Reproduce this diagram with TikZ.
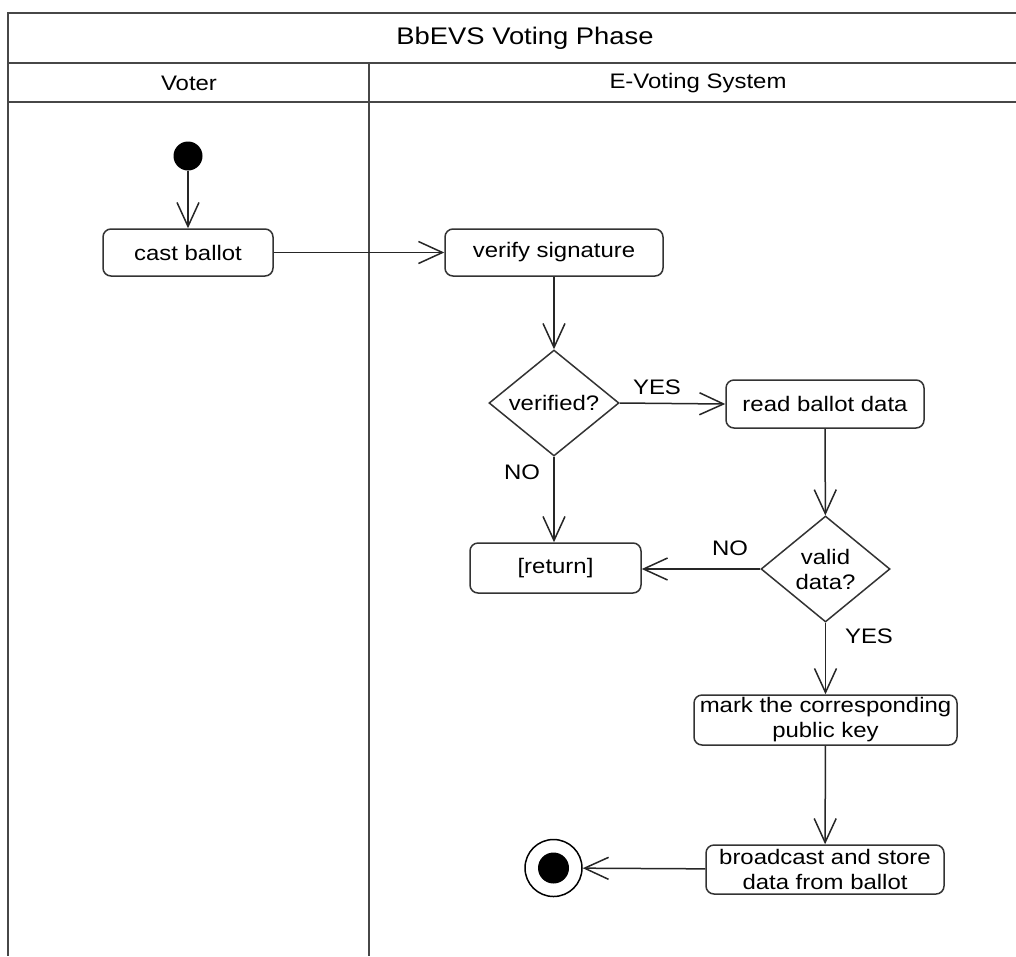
\documentclass[tikz,border=0pt]{standalone}
\usepackage{fontspec}
\setmainfont{Liberation Sans}[FakeStretch=1.14]
\usetikzlibrary{shapes.geometric,arrows.meta}
\begin{document}
\begin{tikzpicture}[x=1pt,y=-1pt,
  frameline/.style={draw=black!72, line width=2pt},
  action/.style={draw=black!80, line width=1.5pt, rounded corners=8pt, inner sep=2pt,
    font=\fontsize{21}{25}\selectfont, align=center},
  decision/.style={draw=black!80, line width=1.5pt, diamond, aspect=1.23, inner sep=0pt,
    font=\fontsize{21}{25}\selectfont, align=center},
  flow/.style={draw=black!85, line width=1.5pt, -{Straight Barb[length=24pt,width=22pt,line width=1.5pt]}},
  guard/.style={font=\fontsize{21}{25}\selectfont},
  lanetext/.style={font=\fontsize{21}{25}\selectfont},
]
\useasboundingbox (0,0) rectangle (1016,956);
\fill[white] (0,0) rectangle (1016,956);

% swimlane frame
\draw[frameline] (1016,13) -- (8,13) -- (8,956);
\draw[frameline] (8,63) -- (1016,63);
\draw[frameline] (8,102) -- (1016,102);
\draw[frameline] (369,63) -- (369,956);
\node[font=\fontsize{24}{28}\selectfont] (title) at (525,38) {BbEVS Voting Phase};
\node[lanetext] (lanevoter) at (189,83) {Voter};
\node[lanetext] (lanesys) at (698,83) {E-Voting System};

% activity nodes
\node[circle, fill=black, minimum size=29pt, inner sep=0pt] (start) at (188,156) {};
\node[action, minimum width=170pt, minimum height=47pt] (cast) at (188,252.5) {cast ballot};
\node[action, minimum width=218pt, minimum height=47pt] (verify) at (554,252.5) {verify signature};
\node[decision, minimum width=130pt, minimum height=106pt] (verified) at (554,403) {verified?};
\node[action, minimum width=198pt, minimum height=48pt] (read) at (825,404) {read ballot data};
\node[action, minimum width=171pt, minimum height=50pt] (ret) at (555.5,568) {[return]};
\node[decision, minimum width=129pt, minimum height=106pt] (valid) at (825.5,569) {valid\\data?};
\node[action, minimum width=263pt, minimum height=50pt, inner sep=1pt] (mark) at (825.5,720) {mark the corresponding\\public key};
\node[action, minimum width=238pt, minimum height=49pt] (store) at (825,869.5) {broadcast and store\\data from ballot};
\node[circle, draw=black, line width=1.5pt, minimum size=57pt, inner sep=0pt] (final) at (553.5,868) {};
\fill[black] (final.center) circle (15.5);

% control flows
\draw[flow] (start) -- (cast);
\draw[flow] (cast) -- (verify);
\draw[flow] (verify) -- (verified);
\draw[flow] (verified.east) -- (read.west);
\draw[flow] (verified.south) -- (verified.south |- ret.north);
\draw[flow] (read) -- (valid);
\draw[flow] (valid.west) -- (ret.east |- valid.west);
\draw[flow] (valid) -- (mark);
\draw[flow] (mark) -- (store);
\draw[flow] (store) -- (final);

% guards
\node[guard] (g1) at (657,387) {YES};
\node[guard] (g2) at (522,472) {NO};
\node[guard] (g3) at (730,548) {NO};
\node[guard] (g4) at (869,636) {YES};
\end{tikzpicture}
\end{document}
